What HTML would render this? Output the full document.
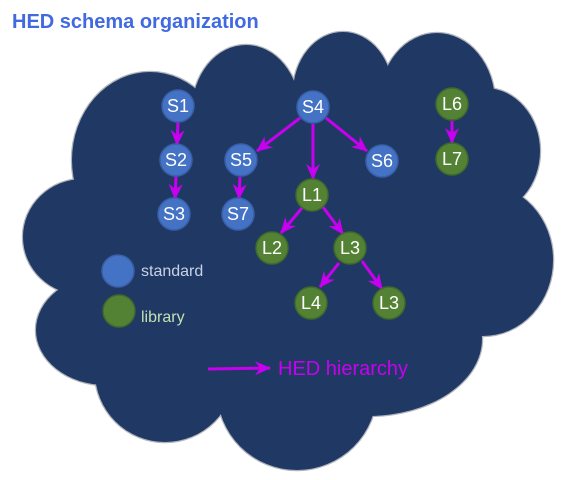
<!DOCTYPE html>
<html><head><meta charset="utf-8"><style>
html,body{margin:0;padding:0;background:#fff;}
svg{display:block;}
</style></head><body>
<svg width="576" height="480" viewBox="0 0 576 480" xmlns="http://www.w3.org/2000/svg">
<defs>
<marker id="ah" markerUnits="userSpaceOnUse" markerWidth="16" markerHeight="16" viewBox="0 0 16 16" refX="15" refY="8" orient="auto">
<path d="M0,1 L16,8 L0,15 L5,8 Z" fill="#c800f0"/>
</marker>
<g id="cloud">
<ellipse cx="150" cy="160" rx="78" ry="88"/>
<ellipse cx="246" cy="111" rx="54" ry="66"/>
<ellipse cx="343" cy="93" rx="50" ry="61"/>
<ellipse cx="437" cy="103" rx="58" ry="70"/>
<ellipse cx="485" cy="151" rx="55" ry="63"/>
<ellipse cx="483" cy="260" rx="70" ry="76"/>
<ellipse cx="368" cy="339" rx="114" ry="77"/>
<ellipse cx="297" cy="390" rx="80" ry="80"/>
<ellipse cx="165" cy="372" rx="70" ry="70"/>
<ellipse cx="106" cy="330" rx="70" ry="55"/>
<ellipse cx="83" cy="237" rx="60" ry="58"/>
<ellipse cx="290" cy="250" rx="200" ry="150"/>
</g>
</defs>
<text x="12" y="28" font-family="Liberation Sans, sans-serif" font-weight="bold" font-size="20" fill="#4169e1">HED schema organization</text>
<use href="#cloud" fill="#b0b4bc" stroke="#b0b4bc" stroke-width="2.5"/>
<use href="#cloud" fill="#203864"/>
<g stroke="#c800f0" stroke-width="3" fill="none" marker-end="url(#ah)">
<line x1="178" y1="122" x2="177" y2="145"/>
<line x1="176" y1="176" x2="175" y2="199"/>
<line x1="300" y1="118" x2="257" y2="151"/>
<line x1="313" y1="124" x2="313" y2="179"/>
<line x1="326" y1="118" x2="367" y2="151"/>
<line x1="240" y1="177" x2="239" y2="199"/>
<line x1="452" y1="121" x2="452" y2="143"/>
<line x1="302" y1="208" x2="281" y2="233"/>
<line x1="323" y1="207" x2="343" y2="234"/>
<line x1="339" y1="263" x2="320" y2="287"/>
<line x1="362" y1="261" x2="382" y2="289"/>
<line x1="208" y1="369" x2="270" y2="368"/>
</g>
<g stroke-width="1.5" font-family="Liberation Sans, sans-serif" font-size="18" fill="#fff" text-anchor="middle">
<g fill="#4472c4" stroke="#3a5fa8">
<circle cx="178" cy="106" r="16"/><circle cx="176" cy="160" r="16"/><circle cx="174" cy="214" r="16"/>
<circle cx="241" cy="160" r="16"/><circle cx="238" cy="214" r="16"/><circle cx="313" cy="107" r="16"/>
<circle cx="382" cy="161" r="16"/><circle cx="118" cy="271" r="16"/>
</g>
<g fill="#548235" stroke="#3f6a2a">
<circle cx="452" cy="104" r="16"/><circle cx="452" cy="159" r="16"/><circle cx="312" cy="195" r="16"/>
<circle cx="272" cy="248" r="16"/><circle cx="350" cy="248" r="16"/><circle cx="311" cy="303" r="16"/>
<circle cx="389" cy="303" r="16"/><circle cx="119" cy="311" r="16"/>
</g>
<text x="178" y="112">S1</text><text x="176" y="166">S2</text><text x="174" y="220">S3</text>
<text x="241" y="166">S5</text><text x="238" y="220">S7</text><text x="313" y="113">S4</text>
<text x="382" y="167">S6</text>
<text x="452" y="110">L6</text><text x="452" y="165">L7</text><text x="312" y="201">L1</text>
<text x="272" y="254">L2</text><text x="350" y="254">L3</text><text x="311" y="309">L4</text>
<text x="389" y="309">L3</text>
</g>
<text x="141" y="276" font-family="Liberation Sans, sans-serif" font-size="16" fill="#c8d2e6">standard</text>
<text x="141" y="322" font-family="Liberation Sans, sans-serif" font-size="16" fill="#c5e0b4">library</text>
<text x="278" y="375" font-family="Liberation Sans, sans-serif" font-size="20" fill="#c800f0">HED hierarchy</text>
</svg>
</body></html>
